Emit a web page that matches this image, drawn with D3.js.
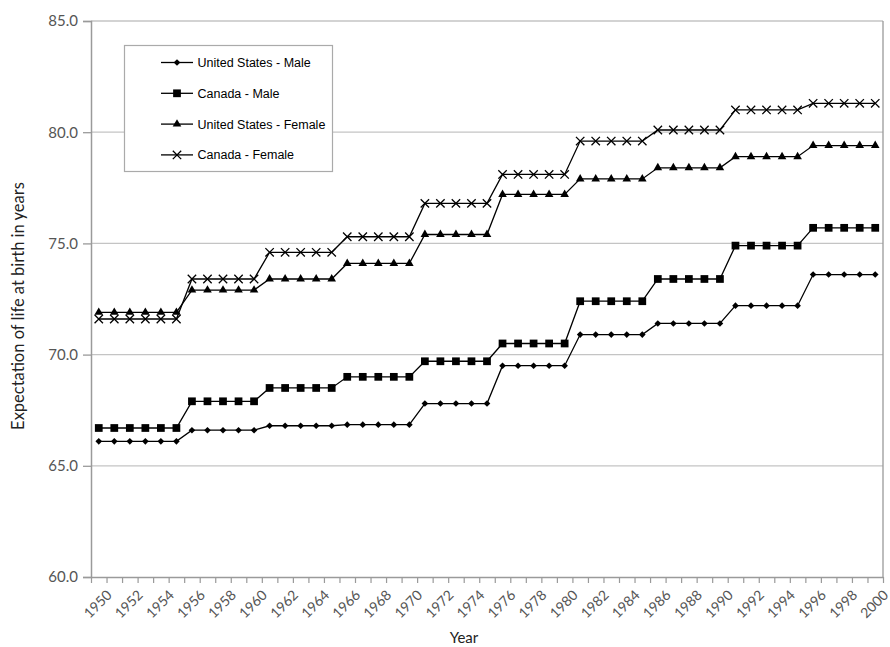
<!DOCTYPE html>
<html>
<head>
<meta charset="utf-8">
<script src="https://cdn.jsdelivr.net/npm/d3@7"></script>
<style>
  html, body { margin: 0; padding: 0; background: #fff; }
  svg { display: block; }
</style>
</head>
<body>
<svg id="chart" width="890" height="647"></svg>
<script>
// ---------------- DATA ----------------
const years = [1950,1951,1952,1953,1954,1955,1956,1957,1958,1959,1960,1961,1962,1963,1964,1965,1966,1967,1968,1969,1970,1971,1972,1973,1974,1975,1976,1977,1978,1979,1980,1981,1982,1983,1984,1985,1986,1987,1988,1989,1990,1991,1992,1993,1994,1995,1996,1997,1998,1999,2000];
const yearLabels = ["1950","1952","1954","1956","1958","1960","1962","1964","1966","1968","1970","1972","1974","1976","1978","1980","1982","1984","1986","1988","1990","1992","1994","1996","1998","2000"];
const yTicks = [60, 65, 70, 75, 80, 85];

const usMale = [66.1,66.1,66.1,66.1,66.1,66.1, 66.6,66.6,66.6,66.6,66.6, 66.8,66.8,66.8,66.8,66.8, 66.85,66.85,66.85,66.85,66.85, 67.8,67.8,67.8,67.8,67.8, 69.5,69.5,69.5,69.5,69.5, 70.9,70.9,70.9,70.9,70.9, 71.4,71.4,71.4,71.4,71.4, 72.2,72.2,72.2,72.2,72.2, 73.6,73.6,73.6,73.6,73.6];
const canadaMale = [66.7,66.7,66.7,66.7,66.7,66.7, 67.9,67.9,67.9,67.9,67.9, 68.5,68.5,68.5,68.5,68.5, 69.0,69.0,69.0,69.0,69.0, 69.7,69.7,69.7,69.7,69.7, 70.5,70.5,70.5,70.5,70.5, 72.4,72.4,72.4,72.4,72.4, 73.4,73.4,73.4,73.4,73.4, 74.9,74.9,74.9,74.9,74.9, 75.7,75.7,75.7,75.7,75.7];
const usFemale = [71.9,71.9,71.9,71.9,71.9,71.9, 72.9,72.9,72.9,72.9,72.9, 73.4,73.4,73.4,73.4,73.4, 74.1,74.1,74.1,74.1,74.1, 75.4,75.4,75.4,75.4,75.4, 77.2,77.2,77.2,77.2,77.2, 77.9,77.9,77.9,77.9,77.9, 78.4,78.4,78.4,78.4,78.4, 78.9,78.9,78.9,78.9,78.9, 79.4,79.4,79.4,79.4,79.4];
const canadaFemale = [71.6,71.6,71.6,71.6,71.6,71.6, 73.4,73.4,73.4,73.4,73.4, 74.6,74.6,74.6,74.6,74.6, 75.3,75.3,75.3,75.3,75.3, 76.8,76.8,76.8,76.8,76.8, 78.1,78.1,78.1,78.1,78.1, 79.6,79.6,79.6,79.6,79.6, 80.1,80.1,80.1,80.1,80.1, 81.0,81.0,81.0,81.0,81.0, 81.3,81.3,81.3,81.3,81.3];

const seriesNames = ["United States - Male", "Canada - Male", "United States - Female", "Canada - Female"];
const seriesValues = [usMale, canadaMale, usFemale, canadaFemale];
const seriesMarkers = ["diamond", "square", "triangle", "x"];

// ---------------- LAYOUT ----------------
const svg = d3.select("#chart");
const plotL = 91, plotR = 883, plotT = 21, plotB = 577;

const xEdge = d3.scaleLinear().domain([1950, 2001]).range([plotL, plotR]);
const xc = yr => xEdge(yr + 0.5);
const y = d3.scaleLinear().domain([60, 85]).range([plotB, plotT]);

const gridColor = "#c4c4c4";
const axisColor = "#9a9a9a";
const tickFont = "Lato, 'Open Sans', 'DejaVu Sans', sans-serif";

// gridlines
svg.append("g").selectAll("line").data(yTicks.filter(t => t > 60)).join("line")
  .attr("x1", plotL).attr("x2", plotR)
  .attr("y1", d => y(d)).attr("y2", d => y(d))
  .attr("stroke", gridColor).attr("stroke-width", 1.3);

// right border
svg.append("line").attr("x1", plotR).attr("x2", plotR).attr("y1", plotT).attr("y2", plotB)
  .attr("stroke", axisColor).attr("stroke-width", 1.3);

// y axis
const yAxis = svg.append("g").attr("transform", `translate(${plotL},0)`)
  .call(d3.axisLeft(y).tickValues(yTicks).tickFormat(d3.format(".1f")).tickSize(8).tickPadding(5));
yAxis.select(".domain").attr("stroke", axisColor).attr("stroke-width", 1.5);
yAxis.selectAll(".tick line").attr("stroke", axisColor).attr("stroke-width", 1.3);
yAxis.selectAll(".tick text").attr("fill", "#555").attr("font-size", 15).attr("font-family", tickFont);

// x axis (ticks between categories)
const xAxis = svg.append("g").attr("transform", `translate(0,${plotB})`)
  .call(d3.axisBottom(xEdge).tickValues(d3.range(1950, 2002)).tickFormat("").tickSize(6).tickSizeOuter(0));
xAxis.select(".domain").attr("stroke", axisColor).attr("stroke-width", 1.5);
xAxis.selectAll(".tick line").attr("stroke", axisColor).attr("stroke-width", 1.2);

// x labels
svg.append("g").selectAll("text").data(yearLabels).join("text")
  .attr("transform", d => `translate(${xc(+d) + 14},${plotB + 19}) rotate(-45)`)
  .attr("text-anchor", "end")
  .attr("fill", "#555").attr("font-size", 14).attr("font-family", tickFont)
  .text(d => d);

// axis titles
svg.append("text").attr("x", 464).attr("y", 643).attr("text-anchor", "middle")
  .attr("font-size", 15).attr("font-family", tickFont).attr("fill", "#222").text("Year");
svg.append("text").attr("transform", "translate(24,306) rotate(-90)").attr("text-anchor", "middle")
  .attr("font-size", 16.5).attr("font-family", tickFont).attr("fill", "#222")
  .text("Expectation of life at birth in years");

// marker drawing
function marker(sel, type) {
  if (type === "diamond") {
    sel.append("path").attr("d", d3.symbol(d3.symbolSquare, 22)()).attr("transform", "rotate(45)").attr("fill", "#000");
  } else if (type === "square") {
    sel.append("path").attr("d", d3.symbol(d3.symbolSquare, 60)()).attr("fill", "#000");
  } else if (type === "triangle") {
    sel.append("path").attr("d", d3.symbol(d3.symbolTriangle, 32)()).attr("fill", "#000");
  } else {
    const p = d3.path(); const r = 4.2;
    p.moveTo(-r, -r); p.lineTo(r, r); p.moveTo(-r, r); p.lineTo(r, -r);
    sel.append("path").attr("d", p.toString()).attr("stroke", "#000").attr("stroke-width", 1.3).attr("fill", "none");
  }
}

// legend
const lg = svg.append("g");
lg.append("rect").attr("x", 124.5).attr("y", 45.5).attr("width", 208).attr("height", 126)
  .attr("fill", "#fff").attr("stroke", "#aaa").attr("stroke-width", 1.2);
seriesNames.forEach((name, i) => {
  const ly = 62.5 + i * 30.8;
  const g = lg.append("g");
  g.append("line").attr("x1", 161).attr("x2", 193).attr("y1", ly).attr("y2", ly).attr("stroke", "#000").attr("stroke-width", 1.3);
  marker(g.append("g").attr("transform", `translate(177,${ly})`), seriesMarkers[i]);
  g.append("text").attr("x", 197.5).attr("y", ly + 4.5).attr("font-size", 12.5)
    .attr("font-family", "'Liberation Sans', Arial, sans-serif").attr("fill", "#000").text(name);
});

// series
const line = d3.line().x((d, i) => xc(years[i])).y(d => y(d));
seriesValues.forEach((vals, s) => {
  const g = svg.append("g");
  g.append("path").attr("d", line(vals)).attr("fill", "none").attr("stroke", "#000").attr("stroke-width", 1.3);
  vals.forEach((v, i) => {
    marker(g.append("g").attr("transform", `translate(${xc(years[i])},${y(v)})`), seriesMarkers[s]);
  });
});
</script>
</body>
</html>
